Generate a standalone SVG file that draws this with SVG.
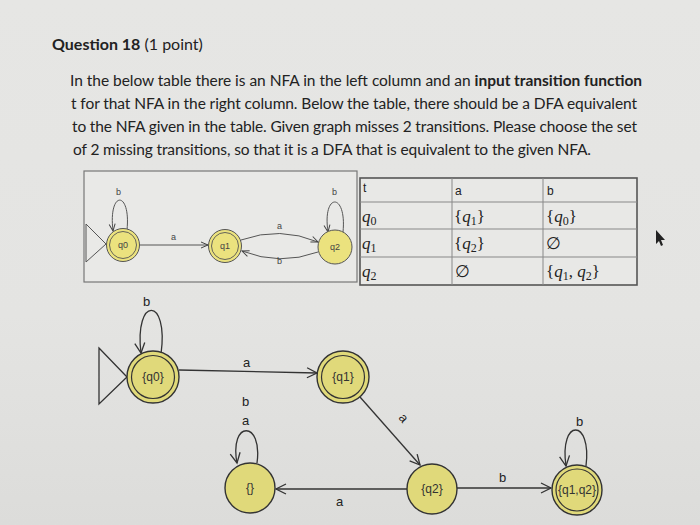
<svg xmlns="http://www.w3.org/2000/svg" width="700" height="525" viewBox="0 0 700 525">
<defs>
<linearGradient id="bg" x1="0" y1="0" x2="0" y2="1">
<stop offset="0" stop-color="#e6e6e4"/>
<stop offset="0.6" stop-color="#e4e4e2"/>
<stop offset="1" stop-color="#dcdcda"/>
</linearGradient>
<marker id="ah" markerUnits="userSpaceOnUse" markerWidth="14" markerHeight="12" refX="11" refY="6" orient="auto">
<path d="M1,1 L11,6 L1,11" fill="none" stroke="#333" stroke-width="1.3"/>
</marker>
<marker id="ahs" markerUnits="userSpaceOnUse" markerWidth="10" markerHeight="10" refX="8" refY="4" orient="auto">
<path d="M1,1 L8,4 L1,7" fill="none" stroke="#444" stroke-width="1"/>
</marker>
</defs>
<style>
.q{font-family:Lato,"Liberation Sans",sans-serif;font-size:15.5px;fill:#222}
.t{font-family:Lato,"Liberation Sans",sans-serif;font-size:16px;fill:#222}
.st{fill:#e0d97a;stroke:#333;stroke-width:1.4}
.in{fill:none;stroke:#333;stroke-width:1.2}
.sst{fill:#ebe27e;stroke:#555;stroke-width:1}
.sin{fill:none;stroke:#555;stroke-width:0.9}
.lab{font-family:"Liberation Sans",Arial,sans-serif;font-size:13px;fill:#222}
.slab{font-family:"Liberation Sans",Arial,sans-serif;font-size:9px;fill:#444}
.nt{font-family:"Liberation Sans",Arial,sans-serif;font-size:12px;fill:#333;text-anchor:middle}
.snt{font-family:"Liberation Sans",Arial,sans-serif;font-size:9px;fill:#444;text-anchor:middle}
.e{fill:none;stroke:#333;stroke-width:1.3}
.se{fill:none;stroke:#555;stroke-width:1}
.grid{stroke:#888;stroke-width:1}
.m{font-family:"Liberation Serif","DejaVu Serif",serif;font-size:17px;fill:#222}
.mi{font-style:italic}
.sub{font-size:12px}
.th{font-family:"Liberation Sans",Arial,sans-serif;font-size:12px;fill:#222}
</style>
<rect x="0" y="0" width="700" height="525" fill="url(#bg)"/>

<text class="t" x="52" y="50"><tspan font-weight="bold">Question 18</tspan> (1 point)</text>
<text class="q" x="70" y="86" textLength="572" lengthAdjust="spacing">In the below table there is an NFA in the left column and an <tspan font-weight="bold">input transition function</tspan></text>
<text class="q" x="71" y="109" textLength="566" lengthAdjust="spacing">t for that NFA in the right column. Below the table, there should be a DFA equivalent</text>
<text class="q" x="72" y="132" textLength="565" lengthAdjust="spacing">to the NFA given in the table. Given graph misses 2 transitions. Please choose the set</text>
<text class="q" x="73" y="155" textLength="518" lengthAdjust="spacing">of 2 missing transitions, so that it is a DFA that is equivalent to the given NFA.</text>

<g id="table-frame">
<rect x="84" y="171" width="273" height="111" fill="#e9e9e7" stroke="#777" stroke-width="1.2"/>
<rect x="360" y="178" width="277" height="107" fill="#e8e8e6" stroke="#555" stroke-width="1.6"/>
<line class="grid" x1="360" y1="202" x2="637" y2="202"/>
<line class="grid" x1="360" y1="229" x2="637" y2="229"/>
<line class="grid" x1="360" y1="257" x2="637" y2="257"/>
<line class="grid" x1="452" y1="178" x2="452" y2="285"/>
<line class="grid" x1="543" y1="178" x2="543" y2="285"/>
</g>
<g id="table-text">
<text class="th" x="363" y="192">t</text>
<text class="th" x="455" y="195">a</text>
<text class="th" x="547" y="195">b</text>
<text class="m" x="362" y="222"><tspan class="mi">q</tspan><tspan class="sub" dy="3">0</tspan></text>
<text class="m" x="362" y="249"><tspan class="mi">q</tspan><tspan class="sub" dy="3">1</tspan></text>
<text class="m" x="362" y="277"><tspan class="mi">q</tspan><tspan class="sub" dy="3">2</tspan></text>
<text class="m" x="454" y="222">{<tspan class="mi">q</tspan><tspan class="sub" dy="3">1</tspan><tspan dy="-3">}</tspan></text>
<text class="m" x="546" y="222">{<tspan class="mi">q</tspan><tspan class="sub" dy="3">0</tspan><tspan dy="-3">}</tspan></text>
<text class="m" x="454" y="249">{<tspan class="mi">q</tspan><tspan class="sub" dy="3">2</tspan><tspan dy="-3">}</tspan></text>
<text class="m" x="546" y="249" font-family="DejaVu Serif" font-size="14">∅</text>
<text class="m" x="455" y="277" font-family="DejaVu Serif" font-size="14">∅</text>
<text class="m" x="546" y="277">{<tspan class="mi">q</tspan><tspan class="sub" dy="3">1</tspan><tspan dy="-3">,  </tspan><tspan class="mi">q</tspan><tspan class="sub" dy="3">2</tspan><tspan dy="-3">}</tspan></text>
</g>

<g id="nfa-connectors">
<polygon points="86,224 106,244 86,262" fill="none" stroke="#555" stroke-width="1"/>
<path class="se" d="M127,230 C131,190 108,190 113,231" marker-end="url(#ahs)"/>
<path class="se" d="M140,245 L208,245" marker-end="url(#ahs)"/>
<path class="se" d="M241,240 Q280,226 318,242" marker-end="url(#ahs)"/>
<path class="se" d="M318,252 Q280,266 242,251" marker-end="url(#ahs)"/>
<path class="se" d="M343,232 C347,192 322,192 328,232" marker-end="url(#ahs)"/>
<text class="slab" x="116" y="195">b</text>
<text class="slab" x="171" y="240">a</text>
<text class="slab" x="277" y="229">a</text>
<text class="slab" x="277" y="264">b</text>
<text class="slab" x="332" y="195">b</text>
</g>
<g id="nfa-q0"><circle class="sst" cx="123" cy="245" r="16.5"/><circle class="sin" cx="123" cy="245" r="13.5"/><text class="snt" x="123" y="248">q0</text></g>
<g id="nfa-q1"><circle class="sst" cx="225" cy="246" r="16.5"/><circle class="sin" cx="225" cy="246" r="13.5"/><text class="snt" x="225" y="249">q1</text></g>
<g id="nfa-q2"><circle class="sst" cx="335" cy="247" r="17"/><text class="snt" x="335" y="250">q2</text></g>

<g id="dfa-connectors">
<polygon points="99,348 127,377 99,404" fill="none" stroke="#333" stroke-width="1.3"/>
<path class="e" d="M161,354 C169,296 134,296 141,353" marker-end="url(#ah)"/>
<path class="e" d="M179,370 L317,373" marker-end="url(#ah)"/>
<path class="e" d="M360,397 L420,465" marker-end="url(#ah)"/>
<path class="e" d="M407,489 L276,489" marker-end="url(#ah)"/>
<path class="e" d="M457,488 L551,488" marker-end="url(#ah)"/>
<path class="e" d="M257,463 C263,420 229,420 237,463" marker-end="url(#ah)"/>
<path class="e" d="M586,466 C592,418 559,418 566,466" marker-end="url(#ah)"/>
<text class="lab" x="143" y="306">b</text>
<text class="lab" x="243" y="367">a</text>
<text class="lab" x="242" y="406">b</text>
<text class="lab" x="242" y="425">a</text>
<text class="lab" x="0" y="0" transform="translate(398,418) rotate(50)">a</text>
<text class="lab" x="336" y="506">a</text>
<text class="lab" x="499" y="482">b</text>
<text class="lab" x="576" y="426">b</text>
</g>
<g id="dfa-q0"><circle class="st" cx="153" cy="377" r="26"/><circle class="in" cx="153" cy="377" r="21.5"/><text class="nt" x="153" y="381">{q0}</text></g>
<g id="dfa-q1"><circle class="st" cx="343" cy="377" r="26"/><circle class="in" cx="343" cy="377" r="21.5"/><text class="nt" x="343" y="381">{q1}</text></g>
<g id="dfa-empty"><circle class="st" cx="250" cy="488" r="25"/><text class="nt" x="250" y="492">{}</text></g>
<g id="dfa-q2"><circle class="st" cx="432" cy="489" r="25"/><text class="nt" x="432" y="493">{q2}</text></g>
<g id="dfa-q1q2"><circle class="st" cx="577" cy="490" r="25"/><circle class="in" cx="577" cy="490" r="21"/><text class="nt" x="577" y="494">{q1,q2}</text></g>

<polygon points="656,230 656,244 659,241 661,246 663,245 661,240 665,240" fill="#222"/>
</svg>
